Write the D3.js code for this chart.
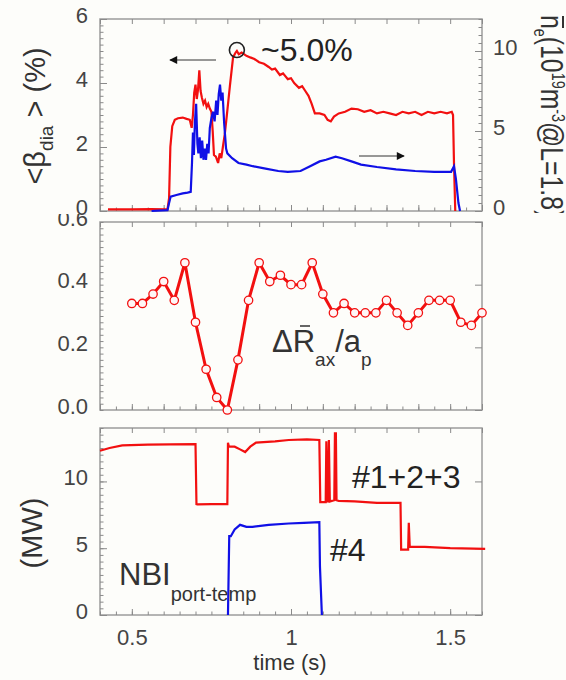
<!DOCTYPE html>
<html>
<head>
<meta charset="utf-8">
<script src="https://cdn.jsdelivr.net/npm/d3@7"></script>
<style>
  body { margin: 0; background: #fdfdfa; }
  svg { display: block; font-family: "Liberation Sans", Arial, sans-serif; }
  .tick text { fill: #444; font-size: 22px; }
  .tick line { stroke: #8a8a8a; stroke-width: 1; }
</style>
</head>
<body>
<div id="chart"></div>
<script>
// time axis (s)
const timeDomain = [0.4, 1.6];
const timeTicks = [0.5, 1, 1.5];

// top panel: <beta_dia> (%) , left axis
const betaTime = [0.425, 0.5, 0.56, 0.612, 0.617, 0.621, 0.627, 0.635, 0.645, 0.66, 0.672, 0.682, 0.688,
  0.692, 0.696, 0.700, 0.704, 0.708, 0.712, 0.716, 0.720, 0.725, 0.730, 0.735, 0.740, 0.745, 0.750,
  0.754, 0.758, 0.764, 0.771, 0.776, 0.781, 0.786, 0.792, 0.798, 0.808, 0.818, 0.826, 0.830, 0.836,
  0.845, 0.86, 0.872, 0.885, 0.9, 0.915, 0.93, 0.94, 0.95, 0.965, 0.975, 0.99, 1.0, 1.01, 1.025,
  1.035, 1.045, 1.055, 1.065, 1.075, 1.09, 1.105, 1.115, 1.125, 1.135, 1.15, 1.17, 1.19, 1.21,
  1.23, 1.25, 1.27, 1.29, 1.31, 1.33, 1.35, 1.37, 1.39, 1.41, 1.43, 1.45, 1.47, 1.49, 1.505,
  1.509, 1.512, 1.516];
const betaValue = [0.05, 0.05, 0.06, 0.05, 0.4, 2.0, 2.65, 2.85, 2.9, 2.92, 2.88, 2.85, 2.6,
  3.0, 3.7, 3.95, 3.5, 3.8, 4.4, 3.75, 3.55, 3.35, 3.45, 3.25, 3.35, 3.2, 3.1,
  2.5, 1.75, 1.7, 1.5, 1.8, 1.65, 2.0, 2.4, 2.95, 3.9, 4.8, 4.95, 5.0, 4.9,
  4.95, 4.85, 4.8, 4.75, 4.65, 4.6, 4.5, 4.42, 4.45, 4.25, 4.3, 4.12, 4.15, 4.0, 3.85,
  3.9, 3.75, 3.6, 3.35, 3.05, 3.05, 3.0, 2.85, 2.8, 2.95, 3.05, 3.1, 3.2, 3.18,
  3.1, 3.15, 3.05, 3.1, 3.05, 3.0, 3.1, 3.05, 3.1, 3.0, 3.1, 3.05, 3.1, 3.05, 3.1,
  3.0, 1.5, 0.0];

// top panel: line-averaged density (10^19 m^-3), right axis
const densTime = [0.562, 0.612, 0.617, 0.622, 0.64, 0.66, 0.675, 0.685,
  0.689, 0.692, 0.695, 0.698, 0.702, 0.706, 0.709, 0.713, 0.717, 0.721, 0.725, 0.729, 0.733,
  0.737, 0.741, 0.745, 0.750, 0.755, 0.760, 0.765, 0.769, 0.773, 0.777, 0.781, 0.785, 0.790,
  0.796, 0.800, 0.815, 0.835, 0.86, 0.88, 0.92, 0.96, 0.99, 1.03, 1.06, 1.09, 1.11, 1.14,
  1.16, 1.19, 1.22, 1.27, 1.33, 1.39, 1.45, 1.503, 1.512, 1.518, 1.526, 1.531];
const densValue = [0.0, 0.05, 0.5, 0.9, 1.0, 1.1, 1.15, 1.2,
  3.0, 4.9, 3.5, 5.5, 6.7, 4.2, 3.6, 4.6, 3.3, 4.4, 3.2, 3.9, 3.2,
  4.2, 3.6, 5.2, 5.8, 6.2, 5.6, 6.9, 6.0, 7.3, 7.9, 6.9, 7.4, 5.5,
  3.9, 3.6, 3.3, 3.0, 2.9, 2.8, 2.65, 2.5, 2.45, 2.5, 2.8, 3.1, 3.2, 3.4,
  3.3, 3.1, 2.9, 2.75, 2.6, 2.5, 2.45, 2.45, 2.8, 2.0, 0.5, 0.0];

// middle panel: delta R_ax / a_p
const shiftTime = d3.range(34).map(i => 0.5 + i / 30);
const shiftValue = [0.34, 0.34, 0.37, 0.41, 0.35, 0.47, 0.28, 0.13, 0.04, 0.0, 0.16, 0.35,
  0.47, 0.41, 0.43, 0.40, 0.40, 0.47, 0.37, 0.31, 0.34, 0.31, 0.31, 0.31, 0.35, 0.31,
  0.27, 0.31, 0.35, 0.35, 0.35, 0.28, 0.27, 0.31];

// bottom panel: NBI port-through power (MW)
const nbi123Time = [0.4, 0.43, 0.47, 0.55, 0.62, 0.70, 0.703, 0.706, 0.75, 0.80, 0.802, 0.805,
  0.823, 0.84, 0.856, 0.872, 0.89, 0.95, 0.993, 1.05, 1.089, 1.092, 1.109, 1.111, 1.114, 1.116,
  1.119, 1.122, 1.136, 1.138, 1.141, 1.143, 1.15, 1.2, 1.27, 1.344, 1.346, 1.368, 1.370, 1.373,
  1.375, 1.42, 1.5, 1.61];
const nbi123Value = [12.3, 12.5, 12.7, 12.75, 12.78, 12.8, 8.3, 8.28, 8.3, 8.3, 12.9, 12.6,
  12.6, 12.4, 12.2, 12.6, 12.9, 13.0, 13.1, 13.15, 13.1, 8.45, 8.45, 13.0, 8.5, 8.5,
  13.1, 8.5, 8.6, 13.6, 13.6, 8.6, 8.55, 8.5, 8.4, 8.4, 4.9, 4.9, 6.9, 5.1,
  5.1, 5.1, 5.0, 4.95];
const nbi4Time = [0.802, 0.806, 0.811, 0.823, 0.84, 0.86, 0.879, 0.93, 0.993, 1.04, 1.089, 1.091, 1.097];
const nbi4Value = [0.0, 5.9, 5.9, 6.4, 6.75, 6.6, 6.6, 6.75, 6.85, 6.9, 6.95, 3.6, 0.0];

const W = 566, H = 680;
const left = 100, right = 482;
const red = "#f21010", blue = "#1010e6";

const svg = d3.select("#chart").append("svg").attr("width", W).attr("height", H);
const defs = svg.append("defs");

const x = d3.scaleLinear().domain(timeDomain).range([left, right]);

const yBeta = d3.scaleLinear().domain([0, 6]).range([211, 19]);
const yDens = d3.scaleLinear().domain([0, 12]).range([211, 19]);
const yShift = d3.scaleLinear().domain([0, 0.6]).range([410, 222]);
const yNbi = d3.scaleLinear().domain([0, 14]).range([615, 428]);

function tickVals(a, b, step) {
  return d3.range(Math.round((b - a) / step) + 1).map(i => +(a + i * step).toFixed(4));
}

// draws frame and inward ticks for one panel
function drawPanel(y, major, minor, fmt, opts) {
  const g = svg.append("g");
  const [y0, y1] = y.range();

  g.append("rect")
    .attr("x", left).attr("y", y1)
    .attr("width", right - left).attr("height", y0 - y1)
    .attr("fill", "none").attr("stroke", "#9c9c9c").attr("stroke-width", 1.5);

  // wrapper keeps the clip in page coordinates
  const labWrap = g.append("g");
  const leftAx = labWrap.append("g").attr("transform", `translate(${left},0)`)
    .call(d3.axisLeft(y).tickValues(major).tickSizeInner(-7).tickSizeOuter(0)
      .tickPadding(12).tickFormat(fmt));
  leftAx.selectAll("text").attr("dy", "0.14em");
  g.append("g").attr("transform", `translate(${left},0)`)
    .call(d3.axisLeft(y).tickValues(minor).tickSizeInner(-3.5).tickSizeOuter(0).tickFormat(""));

  if (!opts.noRight) {
    g.append("g").attr("transform", `translate(${right},0)`)
      .call(d3.axisRight(y).tickValues(major).tickSizeInner(-7).tickSizeOuter(0).tickFormat(""));
  }

  const xMinor = tickVals(0.4, 1.6, 0.05);
  const xMajor = tickVals(0.4, 1.6, 0.1);
  g.append("g").attr("transform", `translate(0,${y1})`)
    .call(d3.axisTop(x).tickValues(xMajor).tickSizeInner(-5).tickSizeOuter(0).tickFormat(""));
  g.append("g").attr("transform", `translate(0,${y0})`)
    .call(d3.axisBottom(x).tickValues(xMinor).tickSizeInner(-3.5).tickSizeOuter(0).tickFormat(""));
  g.append("g").attr("transform", `translate(0,${y0})`)
    .call(d3.axisBottom(x).tickValues(opts.xLabels ? timeTicks : xMajor)
      .tickSizeInner(-6).tickSizeOuter(0).tickPadding(14)
      .tickFormat(opts.xLabels ? d3.format("") : ""));

  g.selectAll(".domain").remove();
  return { g, labWrap };
}

const lineGen = (y) => d3.line().x(d => x(d[0])).y(d => y(d[1]));

// ---------- top panel ----------
const topPanel = drawPanel(yBeta, [0, 2, 4, 6], tickVals(0, 6, 0.2), d3.format("d"), { noRight: true });
topPanel.g.append("g").attr("transform", `translate(${right},0)`)
  .call(d3.axisRight(yDens).tickValues([0, 5, 10]).tickSizeInner(-7).tickSizeOuter(0).tickPadding(11))
  .call(a => a.select(".domain").remove())
  .call(a => a.selectAll("text").attr("dy", "0.14em"));
topPanel.g.append("g").attr("transform", `translate(${right},0)`)
  .call(d3.axisRight(yDens).tickValues(tickVals(0, 12, 0.5)).tickSizeInner(-3.5).tickSizeOuter(0).tickFormat(""))
  .call(a => a.select(".domain").remove());

svg.append("path")
  .datum(d3.zip(betaTime, betaValue))
  .attr("d", lineGen(yBeta))
  .attr("fill", "none").attr("stroke", red).attr("stroke-width", 2.2);
svg.append("path")
  .datum(d3.zip(densTime, densValue))
  .attr("d", lineGen(yDens))
  .attr("fill", "none").attr("stroke", blue).attr("stroke-width", 2.2);

// peak marker + arrows
svg.append("circle").attr("cx", x(0.83)).attr("cy", yBeta(5.03)).attr("r", 7.5)
  .attr("fill", "none").attr("stroke", "#222").attr("stroke-width", 1.6);
svg.append("text").attr("x", 261).attr("y", 61).attr("font-size", 32).attr("fill", "#222").text("~5.0%");

defs.append("marker").attr("id", "ah").attr("viewBox", "0 0 10 10")
  .attr("refX", 9).attr("refY", 5).attr("markerWidth", 11).attr("markerHeight", 8)
  .attr("markerUnits", "userSpaceOnUse").attr("orient", "auto")
  .append("path").attr("d", "M0,0 L10,5 L0,10 z").attr("fill", "#111");
svg.append("line").attr("x1", 216).attr("y1", 60).attr("x2", 170).attr("y2", 60)
  .attr("stroke", "#333").attr("stroke-width", 1).attr("marker-end", "url(#ah)");
svg.append("line").attr("x1", 359).attr("y1", 156).attr("x2", 404).attr("y2", 156)
  .attr("stroke", "#333").attr("stroke-width", 1).attr("marker-end", "url(#ah)");

// axis titles
const yl = svg.append("text").attr("transform", "translate(45,116) rotate(-90)")
  .attr("text-anchor", "middle").attr("font-size", 29).attr("fill", "#333");
yl.append("tspan").text("<β");
yl.append("tspan").attr("dy", 8).attr("font-size", 19).text("dia");
yl.append("tspan").attr("dy", -8).text(" > (%)");

// right title runs off the page and is cut at the panel bottom
defs.append("clipPath").attr("id", "rclip").append("rect")
  .attr("x", 520).attr("y", 0).attr("width", 46).attr("height", 213);
const rWrap = svg.append("g").attr("clip-path", "url(#rclip)");
const yr = rWrap.append("text").attr("transform", "translate(541,15) rotate(90) scale(0.8,1)")
  .attr("font-size", 31).attr("fill", "#333");
yr.append("tspan").text("n");
yr.append("tspan").attr("dy", 7).attr("font-size", 18).text("e");
yr.append("tspan").attr("dy", -7).text("(10");
yr.append("tspan").attr("dy", -11).attr("font-size", 18).text("19");
yr.append("tspan").attr("dy", 11).text("m");
yr.append("tspan").attr("dy", -11).attr("font-size", 18).text("-3");
yr.append("tspan").attr("dy", 11).text("@L=1.8)");
rWrap.append("line").attr("x1", 563).attr("x2", 563).attr("y1", 16).attr("y2", 28)
  .attr("stroke", "#333").attr("stroke-width", 2);

// ---------- middle panel ----------
const mid = drawPanel(yShift, [0, 0.2, 0.4, 0.6], tickVals(0, 0.6, 0.02), d3.format(".1f"), {});
// the 0.6 label sits under the upper panel
defs.append("clipPath").attr("id", "midclip").append("rect")
  .attr("x", 0).attr("y", 214).attr("width", left).attr("height", 210);
mid.labWrap.attr("clip-path", "url(#midclip)");

svg.append("path")
  .datum(d3.zip(shiftTime, shiftValue))
  .attr("d", lineGen(yShift))
  .attr("fill", "none").attr("stroke", red).attr("stroke-width", 3);
svg.append("g").selectAll("circle")
  .data(d3.zip(shiftTime, shiftValue))
  .join("circle")
  .attr("cx", d => x(d[0])).attr("cy", d => yShift(d[1])).attr("r", 4.2)
  .attr("fill", "#fff6f6").attr("stroke", red).attr("stroke-width", 1.3);

const ml = svg.append("text").attr("x", 272).attr("y", 352).attr("font-size", 31).attr("fill", "#333");
ml.append("tspan").text("ΔR");
ml.append("tspan").attr("dy", 14).attr("font-size", 19).text("ax");
ml.append("tspan").attr("dy", -14).text("/a");
ml.append("tspan").attr("dy", 14).attr("font-size", 19).text("p");
svg.append("line").attr("x1", 300).attr("x2", 310).attr("y1", 326).attr("y2", 326)
  .attr("stroke", "#333").attr("stroke-width", 1.5);

// ---------- bottom panel ----------
drawPanel(yNbi, [0, 5, 10], tickVals(0, 14, 0.5), d3.format("d"), { xLabels: true });

svg.append("path")
  .datum(d3.zip(nbi123Time, nbi123Value))
  .attr("d", lineGen(yNbi))
  .attr("fill", "none").attr("stroke", red).attr("stroke-width", 2.2);
svg.append("path")
  .datum(d3.zip(nbi4Time, nbi4Value))
  .attr("d", lineGen(yNbi))
  .attr("fill", "none").attr("stroke", blue).attr("stroke-width", 2.2);

svg.append("text").attr("x", 352).attr("y", 488).attr("font-size", 32).attr("fill", "#222").text("#1+2+3");
svg.append("text").attr("x", 330).attr("y", 561).attr("font-size", 32).attr("fill", "#222").text("#4");
const nl = svg.append("text").attr("x", 119).attr("y", 585).attr("font-size", 31).attr("fill", "#333");
nl.append("tspan").text("NBI");
nl.append("tspan").attr("dy", 16).attr("font-size", 20).text("port-temp");

svg.append("text").attr("transform", "translate(42,533) rotate(-90)")
  .attr("text-anchor", "middle").attr("font-size", 29).attr("fill", "#333").text("(MW)");
svg.append("text").attr("x", 290).attr("y", 670).attr("text-anchor", "middle")
  .attr("font-size", 22).attr("fill", "#333").text("time (s)");
</script>
</body>
</html>
